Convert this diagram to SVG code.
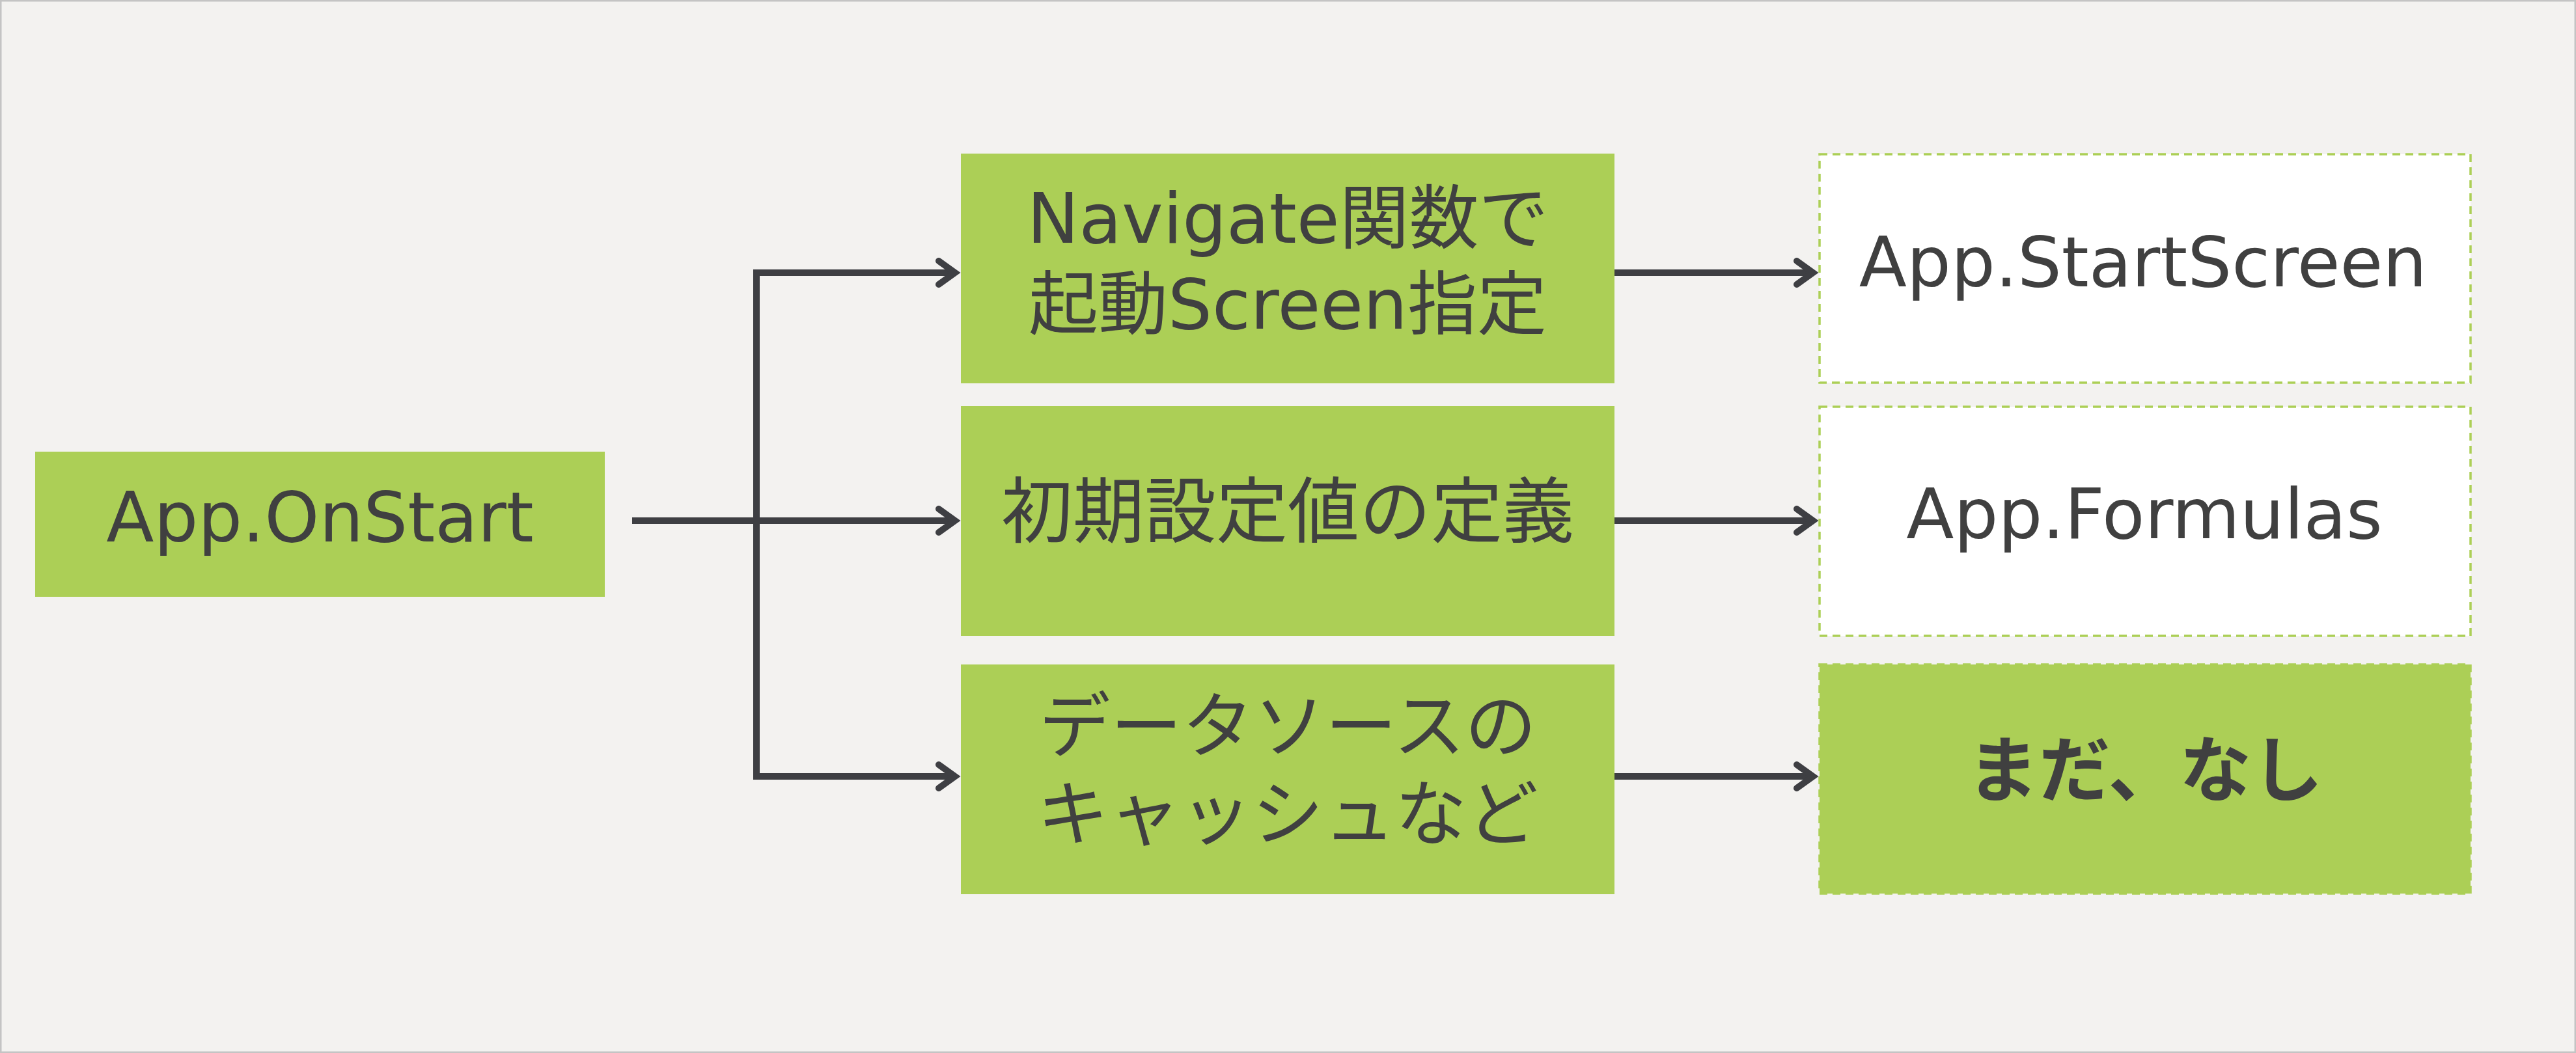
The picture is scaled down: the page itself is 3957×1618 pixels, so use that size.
<svg xmlns="http://www.w3.org/2000/svg" width="3957" height="1618" viewBox="0 0 3957 1618">
  <style>
    .bg { fill: #F3F2F0; stroke: #C4C4C4; stroke-width: 2.5; }
    .box { fill: #ACCF56; }
    .dash { stroke: #ACCF56; stroke-width: 3.5; stroke-dasharray: 12 8; }
    .white { fill: #FFFFFF; }
    .lbl { font-family: "DejaVu Sans", "Noto Sans CJK JP", sans-serif; font-size: 110px; fill: #404040; text-anchor: middle; }
    .lat { font-size: 107px; }
    .bold { font-family: "Noto Sans CJK JP", sans-serif; font-weight: bold; }
    .conn { fill: none; stroke: #3E3F43; stroke-width: 10; }
    .head { fill: none; stroke: #3E3F43; stroke-width: 10; stroke-linecap: round; stroke-linejoin: miter; stroke-miterlimit: 10; }
  </style>
  <defs>
    <marker id="arrow" markerUnits="userSpaceOnUse" orient="auto" refX="0" refY="0" markerWidth="80" markerHeight="80" viewBox="-40 -40 80 80" overflow="visible">
      <path class="head" d="M -25 -18 L 0 0 L -25 18"/>
    </marker>
  </defs>

  <rect class="bg" x="1.25" y="1.25" width="3954.5" height="1615.5"/>

  <g id="connectors">
    <path class="conn" d="M 1162 414 V 1198"/>
    <path class="conn" d="M 1157 419 H 1467" marker-end="url(#arrow)"/>
    <path class="conn" d="M 971 800 H 1467" marker-end="url(#arrow)"/>
    <path class="conn" d="M 1157 1193 H 1467" marker-end="url(#arrow)"/>
    <path class="conn" d="M 2480 419 H 2785" marker-end="url(#arrow)"/>
    <path class="conn" d="M 2480 800 H 2785" marker-end="url(#arrow)"/>
    <path class="conn" d="M 2480 1193 H 2785" marker-end="url(#arrow)"/>
  </g>

  <g id="app-onstart">
    <rect class="box" x="54" y="694" width="875" height="223"/>
    <text class="lbl lat" x="491.5" y="832">App.OnStart</text>
  </g>

  <g id="navigate">
    <rect class="box" x="1476" y="236" width="1004" height="353"/>
    <text class="lbl lat" x="1978" y="373">Navigate関数で</text>
    <text class="lbl lat" x="1978" y="505">起動Screen指定</text>
  </g>

  <g id="init-values">
    <rect class="box" x="1476" y="624" width="1004" height="353"/>
    <text class="lbl" x="1978" y="825">初期設定値の定義</text>
  </g>

  <g id="datasource-cache">
    <rect class="box" x="1476" y="1021" width="1004" height="353"/>
    <text class="lbl" x="1978" y="1155">データソースの</text>
    <text class="lbl" x="1978" y="1290">キャッシュなど</text>
  </g>

  <g id="app-startscreen">
    <rect class="white dash" x="2795" y="237" width="1000" height="351"/>
    <text class="lbl lat" x="3292" y="440">App.StartScreen</text>
  </g>

  <g id="app-formulas">
    <rect class="white dash" x="2795" y="625" width="1000" height="352"/>
    <text class="lbl lat" x="3294" y="827">App.Formulas</text>
  </g>

  <g id="not-yet">
    <rect class="box dash" x="2795" y="1021" width="1000" height="352"/>
    <text class="lbl bold" x="3295" y="1223">まだ、なし</text>
  </g>
</svg>
